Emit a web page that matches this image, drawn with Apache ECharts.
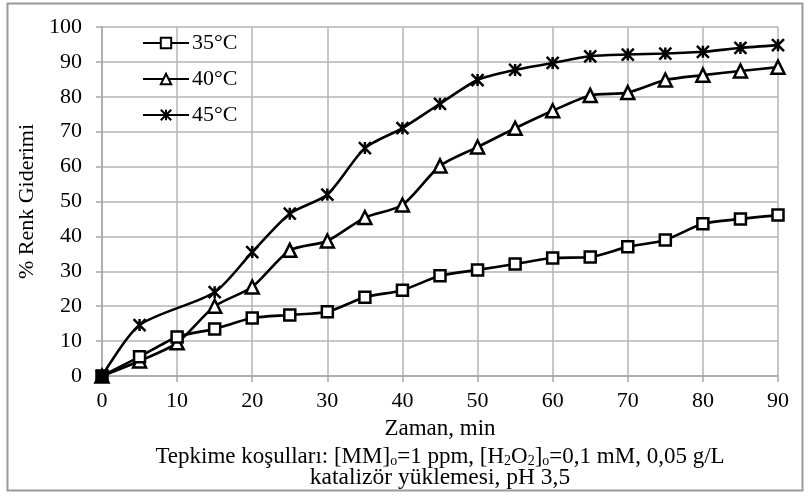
<!DOCTYPE html>
<html><head><meta charset="utf-8">
<script src="https://cdn.jsdelivr.net/npm/echarts@6/dist/echarts.min.js"></script>
<style>html,body{margin:0;padding:0;background:#fff}#c{width:809px;height:496px}</style>
</head><body><div id="c"></div>
<script>
const seriesNames = ['35°C', '40°C', '45°C'];
const time35 = [0,5,10,15,20,25,30,35,40,45,50,55,60,65,70,75,80,85,90];
const val35 = [0,5.5,11.2,13.5,16.6,17.5,18.4,22.6,24.6,28.7,30.4,32.1,33.8,34.1,37,39,43.6,45,46.1];
const time40 = [0,5,10,15,20,25,30,35,40,45,50,55,60,65,70,75,80,85,90];
const val40 = [0,4.3,9.5,20,25.5,36,38.7,45.4,49,60.2,65.6,71,76,80.4,81.2,84.8,86.2,87.4,88.5];
const time45 = [0,5,15,20,25,30,35,40,45,50,55,60,65,70,75,80,85,90];
const val45 = [0,14.6,24,35.5,46.5,52,65.3,71,78,84.8,87.7,89.7,91.6,92.1,92.4,92.9,94,94.8];
const xTicks = [0,10,20,30,40,50,60,70,80,90];
const yTicks = [0,10,20,30,40,50,60,70,80,90,100];

const FONT = '"Liberation Serif", "Times New Roman", serif';
const starPath = 'path://M0,0L10,10M10,0L0,10M5,0L5,10';
const symbols = ['rect', 'triangle', starPath];
const symSizes = [11, 13, 12];
const times = [time35, time40, time45];
const vals = [val35, val40, val45];

function buildData(i) {
  return times[i].map((x, k) => {
    const item = {value: [x, vals[i][k]]};
    if (i === 0 && k === 0) item.itemStyle = {color: '#000', borderColor: '#000'};
    return item;
  });
}

const chart = echarts.init(document.getElementById('c'), null, {renderer: 'canvas'});
chart.setOption({
  animation: false,
  backgroundColor: '#fff',
  textStyle: {fontFamily: FONT},
  grid: {left: 102, right: 31, top: 27, bottom: 120, containLabel: false},
  legend: {
    orient: 'vertical', left: 137, top: 27, itemGap: 14,
    itemWidth: 46, itemHeight: 13,
    textStyle: {fontFamily: FONT, fontSize: 22, color: '#000', padding: [0,0,0,-2]},
    data: seriesNames
  },
  xAxis: {
    type: 'value', min: 0, max: 90, interval: 10,
    name: 'Zaman, min', nameLocation: 'middle', nameGap: 41,
    nameTextStyle: {fontFamily: FONT, fontSize: 23, color: '#000'},
    axisLine: {show: true, onZero: false, lineStyle: {color: '#a8a8a8', width: 1.5}},
    axisTick: {show: true, length: 6, lineStyle: {color: '#a8a8a8', width: 1.5}},
    axisLabel: {fontFamily: FONT, fontSize: 22, color: '#000', margin: 14,
      formatter: v => xTicks.includes(v) ? String(v) : ''},
    splitLine: {show: true, lineStyle: {color: '#b4b4b4', width: 1.5}}
  },
  yAxis: {
    type: 'value', min: 0, max: 100, interval: 10,
    name: '% Renk Giderimi', nameLocation: 'middle', nameGap: 64, nameRotate: 90,
    nameTextStyle: {fontFamily: FONT, fontSize: 22, color: '#000'},
    axisLine: {show: true, lineStyle: {color: '#a8a8a8', width: 1.5}},
    axisTick: {show: true, length: 6, lineStyle: {color: '#a8a8a8', width: 1.5}},
    axisLabel: {fontFamily: FONT, fontSize: 22, color: '#000', margin: 20,
      formatter: v => yTicks.includes(v) ? String(v) : ''},
    splitLine: {show: true, lineStyle: {color: '#b4b4b4', width: 1.5}}
  },
  series: seriesNames.map((n, i) => ({
    name: n, type: 'line', data: buildData(i), smooth: 0.25,
    symbol: symbols[i], symbolSize: symSizes[i], showAllSymbol: true,
    lineStyle: {color: '#000', width: 2.6},
    itemStyle: {color: i === 2 ? 'rgba(0,0,0,0)' : '#fff', borderColor: '#000', borderWidth: 2.5},
    z: i === 0 ? 5 : 3,
    emphasis: {disabled: true}
  })),
  graphic: [
    {type: 'rect', shape: {x: 7.5, y: 3.5, width: 795, height: 487}, style: {fill: 'none', stroke: '#9a9a9a', lineWidth: 2}, z: 100},
    {type: 'text', x: 440, y: 455, style: {
      x: 0, y: 0, align: 'center', verticalAlign: 'middle',
      text: '{n|Tepkime koşulları: [MM]}{s|o}{n|=1 ppm, [H}{s|2}{n|O}{s|2}{n|]}{s|o}{n|=0,1 mM, 0,05 g/L}',
      fontFamily: FONT, fontSize: 23, fill: '#000',
      rich: {
        n: {fontFamily: FONT, fontSize: 23, lineHeight: 26, verticalAlign: 'bottom', fill: '#000'},
        s: {fontFamily: FONT, fontSize: 14, lineHeight: 14, verticalAlign: 'bottom', fill: '#000'}
      }
    }},
    {type: 'text', x: 440, y: 478, style: {
      x: 0, y: 0, align: 'center', verticalAlign: 'middle',
      text: 'katalizör yüklemesi, pH 3,5', fontFamily: FONT, fontSize: 23.5, fill: '#000'
    }}
  ]
});
</script></body></html>
